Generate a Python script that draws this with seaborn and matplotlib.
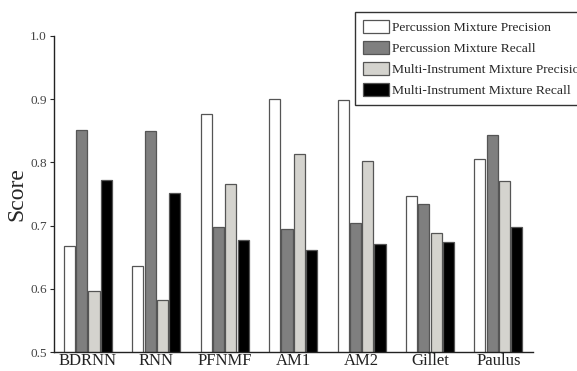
import matplotlib
matplotlib.use("Agg")
import matplotlib.pyplot as plt
import seaborn as sns
import pandas as pd

methods = ["BDRNN", "RNN", "PFNMF", "AM1", "AM2", "Gillet", "Paulus"]
series_names = ["Percussion Mixture Precision", "Percussion Mixture Recall",
                "Multi-Instrument Mixture Precision", "Multi-Instrument Mixture Recall"]
perc_precision = [0.668, 0.636, 0.876, 0.900, 0.899, 0.747, 0.805]
perc_recall = [0.851, 0.849, 0.698, 0.694, 0.704, 0.735, 0.843]
multi_precision = [0.597, 0.582, 0.766, 0.814, 0.802, 0.688, 0.770]
multi_recall = [0.772, 0.752, 0.677, 0.661, 0.671, 0.674, 0.698]
colors = ["#ffffff", "#7f7f7f", "#d5d3cd", "#000000"]
yticks = [0.5, 0.6, 0.7, 0.8, 0.9, 1.0]

rows = []
for name, vals in zip(series_names, [perc_precision, perc_recall, multi_precision, multi_recall]):
    for m, v in zip(methods, vals):
        rows.append({"Method": m, "Series": name, "Score": v})
df = pd.DataFrame(rows)

sns.set_style("ticks")
plt.rcParams["font.family"] = ["Liberation Serif", "DejaVu Serif"]

fig = plt.figure(figsize=(5.77, 3.71), dpi=100)
ax = fig.add_axes([0.093, 0.051, 0.83, 0.852])

sns.barplot(data=df, x="Method", y="Score", hue="Series", hue_order=series_names,
            order=methods, palette=colors, width=0.72, gap=0.1,
            edgecolor="#555555", linewidth=0.9, ax=ax, legend=True)

ax.set_ylim(0.5, 1.0)
ax.set_xlim(-0.5, 6.5)
ax.set_yticks(yticks)
ax.set_yticklabels([f"{t:.1f}" for t in yticks], fontsize=9.5, color="#444444")
ax.tick_params(axis="x", length=0, labelsize=12, pad=1, labelcolor="#222222")
ax.tick_params(axis="y", length=3, width=0.8, pad=2)
ax.set_xlabel("")
ax.set_ylabel("Score", fontsize=17, labelpad=2)
sns.despine(ax=ax)
for s in ["left", "bottom"]:
    ax.spines[s].set_linewidth(1.0)
    ax.spines[s].set_color("#222222")

handles, labels = ax.get_legend_handles_labels()
ax.legend(handles, labels, loc="upper left", bbox_to_anchor=(0.615, 0.968),
          bbox_transform=fig.transFigure, borderaxespad=0, fontsize=9.7,
          frameon=True, fancybox=False, edgecolor="#333333", framealpha=1,
          handlelength=1.9, handleheight=1.15, handletextpad=0.25,
          labelspacing=0.5, borderpad=0.6)
ax.get_legend().get_frame().set_linewidth(1.0)

fig.savefig("out.png", dpi=100)
